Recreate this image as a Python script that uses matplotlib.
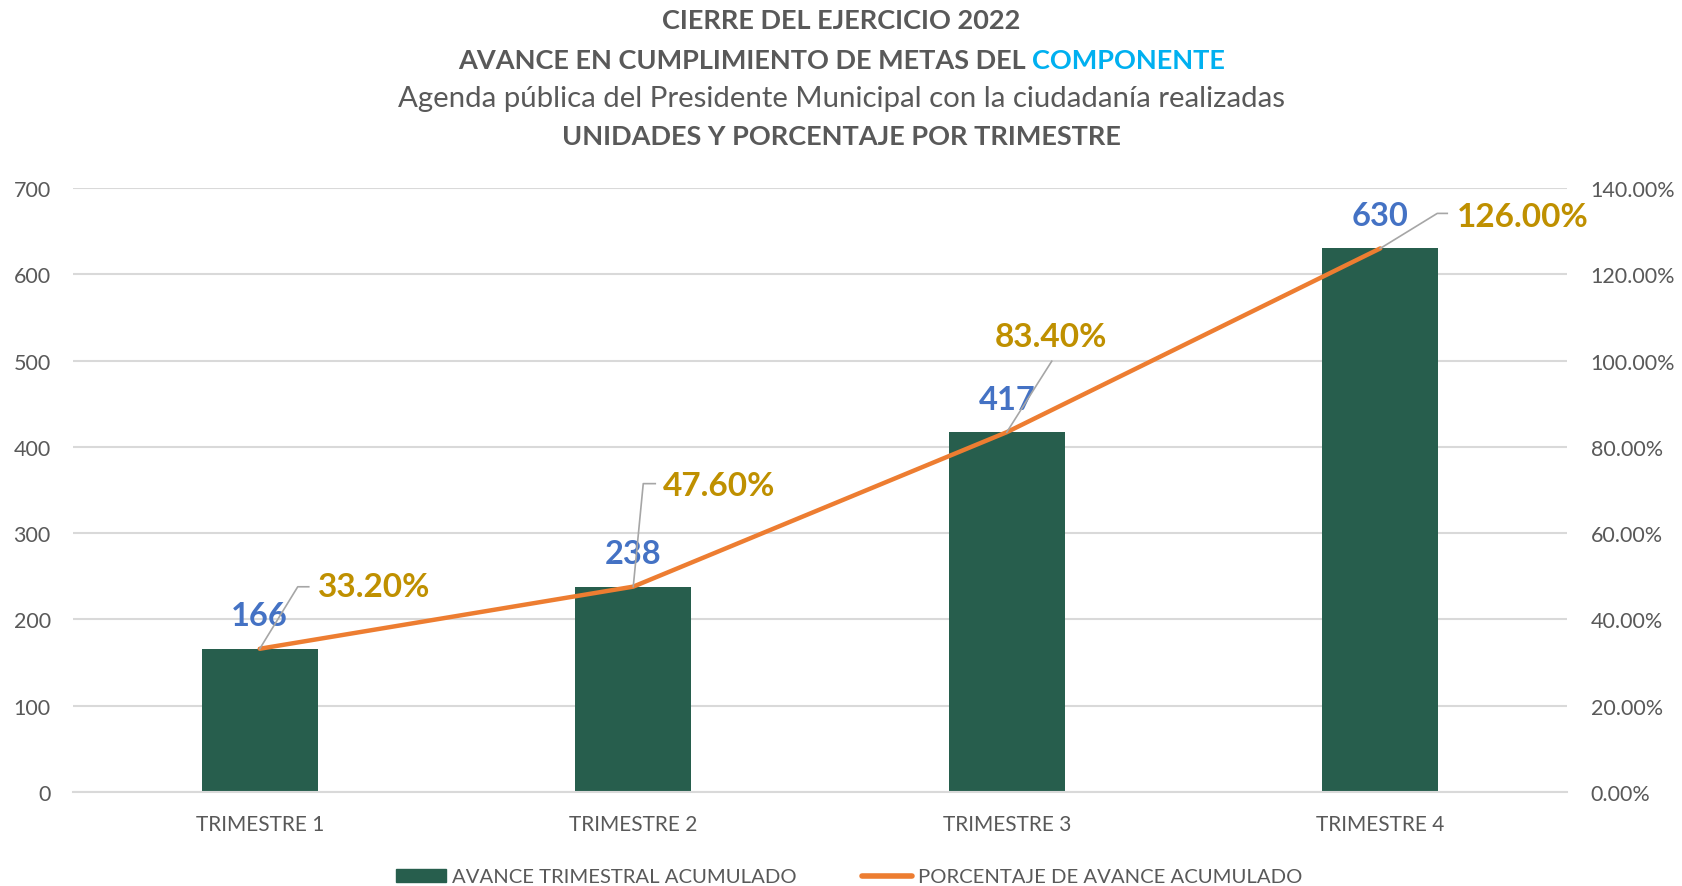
import matplotlib
matplotlib.use("Agg")
import matplotlib.pyplot as plt
from matplotlib.lines import Line2D
from matplotlib.transforms import ScaledTranslation, IdentityTransform
from matplotlib.ticker import FuncFormatter, MultipleLocator

# ---- data ----
categories = ["TRIMESTRE 1", "TRIMESTRE 2", "TRIMESTRE 3", "TRIMESTRE 4"]
avance_acumulado = [166, 238, 417, 630]
porcentaje_acumulado = [33.20, 47.60, 83.40, 126.00]
series_names = ["AVANCE TRIMESTRAL ACUMULADO", "PORCENTAJE DE AVANCE ACUMULADO"]
title_lines = ["CIERRE DEL EJERCICIO 2022",
               "AVANCE EN CUMPLIMIENTO DE METAS DEL ",
               "COMPONENTE",
               "Agenda pública del Presidente Municipal con la ciudadanía realizadas",
               "UNIDADES Y PORCENTAJE POR TRIMESTRE"]

FONT = "Lato"
GREY = "#595959"
BAR_C = "#275E4D"
LINE_C = "#ED7D31"
VAL_C = "#4472C4"
PCT_C = "#BF9000"
LEAD_C = "#A6A6A6"
plt.rcParams["font.family"] = [FONT, "DejaVu Sans"]

W, H = 1683, 887
fig = plt.figure(figsize=(W / 100, H / 100), dpi=100)
ax = fig.add_axes([73 / W, 1 - 793 / H, (1567 - 73) / W, (793 - 189) / H])
ax2 = ax.twinx()

x = list(range(len(categories)))
ax.bar(x, avance_acumulado, width=0.31, color=BAR_C, zorder=2)
ax.set_xlim(-0.5, len(categories) - 0.5)
ax.set_ylim(0, 700)
ax.yaxis.set_major_locator(MultipleLocator(100))
ax.grid(axis="y", color="#D9D9D9", lw=1.5, zorder=0)
ax.set_axisbelow(True)
for s in ax.spines.values():
    s.set_visible(False)
for s in ax2.spines.values():
    s.set_visible(False)
ax.spines["bottom"].set_visible(True)
ax.spines["bottom"].set_color("#D9D9D9")
ax.spines["bottom"].set_linewidth(1.5)

ax.set_xticks(x)
ax.set_xticklabels(categories)
ax.tick_params(axis="x", length=0, pad=16, labelsize=15, labelcolor=GREY)
ax.tick_params(axis="y", length=0, pad=16, labelsize=15.5, labelcolor=GREY)

ax2.plot(x, porcentaje_acumulado, color=LINE_C, lw=3.2, solid_capstyle="round", zorder=3)
ax2.set_ylim(0, 140)
ax2.yaxis.set_major_locator(MultipleLocator(20))
ax2.yaxis.set_major_formatter(FuncFormatter(lambda v, p: f"{v:.2f}%"))
ax2.tick_params(axis="y", length=0, pad=17, labelsize=15.5, labelcolor=GREY)

# value labels above bars
for xi, v in zip(x, avance_acumulado):
    ax.annotate(f"{v}", (xi, v), xytext=(0, 33), textcoords="offset pixels",
                ha="center", va="center", fontsize=23.5, fontweight="bold",
                color=VAL_C, zorder=5)

# percentage labels with leader lines (offsets in pixels)
label_style = [
    ((58, 62), "left", [(0, 0), (38, 62), (49, 62)]),
    ((30, 101), "left", [(0, 0), (10, 103), (22, 103)]),
    ((44, 96), "center", [(0, 0), (45, 71)]),
    ((77, 32), "left", [(0, 0), (57, 35), (67, 35)]),
]
for xi, p, (off, ha, verts) in zip(x, porcentaje_acumulado, label_style):
    ax2.annotate(f"{p:.2f}%", (xi, p), xytext=off, textcoords="offset pixels",
                 ha=ha, va="center", fontsize=24, fontweight="bold",
                 color=PCT_C, zorder=6, annotation_clip=False)
    tr = IdentityTransform() + ScaledTranslation(xi, p, ax2.transData)
    xs, ys = zip(*verts)
    ax2.add_line(Line2D(xs, ys, transform=tr, color=LEAD_C, lw=1.2,
                        clip_on=False, zorder=4))

# titles
ty = [1 - 21 / H, 1 - 61 / H, 1 - 99 / H, 1 - 137 / H]
bsize = 19.5
nsize = 21.2
fig.text(0.5, ty[0], title_lines[0], ha="center", va="center", fontsize=bsize,
         fontweight="bold", color=GREY)
t_a = fig.text(0.5, ty[1], title_lines[1], ha="left", va="center", fontsize=bsize,
               fontweight="bold", color=GREY)
t_b = fig.text(0.5, ty[1], title_lines[2], ha="left", va="center", fontsize=bsize,
               fontweight="bold", color="#00B0F0")
fig.canvas.draw()
r = fig.canvas.get_renderer()
wa = t_a.get_window_extent(r).width
wb = t_b.get_window_extent(r).width
start = W / 2 - (wa + wb) / 2
t_a.set_x(start / W)
t_b.set_x((start + wa) / W)
fig.text(0.5, ty[2], title_lines[3], ha="center", va="center", fontsize=nsize,
         color=GREY)
fig.text(0.5, ty[3], title_lines[4], ha="center", va="center", fontsize=bsize,
         fontweight="bold", color=GREY)

# legend
handles = [plt.Rectangle((0, 0), 1, 1, color=BAR_C),
           Line2D([0], [0], color=LINE_C, lw=4, solid_capstyle="round")]
fig.legend(handles, series_names, loc="center", bbox_to_anchor=(849 / W, 1 - 878 / H),
           ncol=2, frameon=False, fontsize=14.6, labelcolor=GREY,
           handlelength=2.5, handletextpad=0.28, columnspacing=3.2, handleheight=0.6)

fig.savefig("out.png", dpi=100)
